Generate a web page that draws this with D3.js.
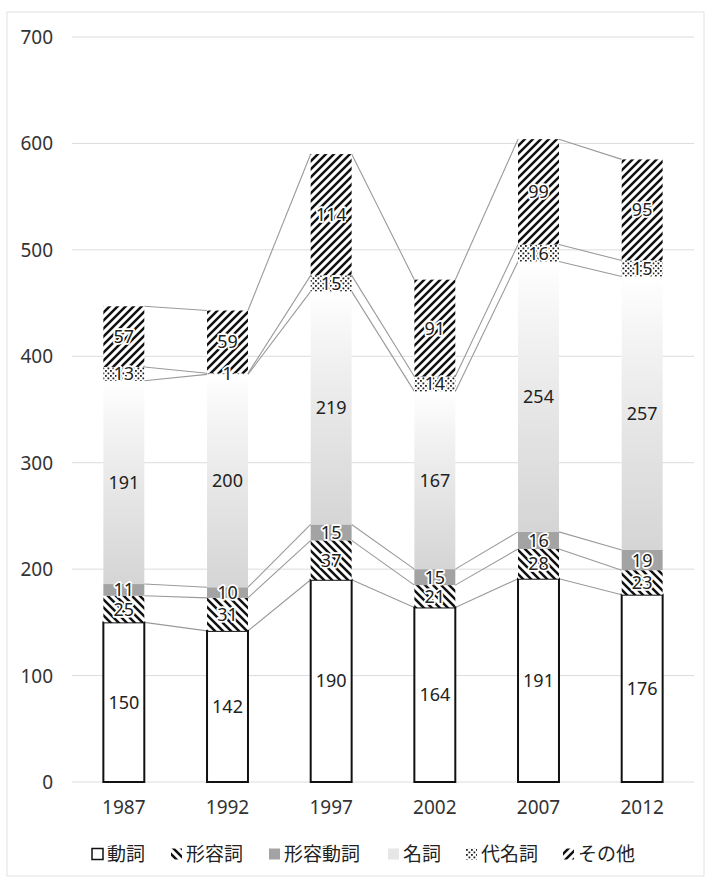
<!DOCTYPE html>
<html><head><meta charset="utf-8">
<script src="https://cdn.jsdelivr.net/npm/d3@7"></script>
<style>
html,body{margin:0;padding:0;background:#fff;}
svg{display:block;}
</style></head>
<body>
<svg id="chart" width="714" height="882"></svg>
<script>
const years = ["1987","1992","1997","2002","2007","2012"];
const seriesNames = ["動詞","形容詞","形容動詞","名詞","代名詞","その他"];
const verbs      = [150,142,190,164,191,176];
const adjectives = [25,31,37,21,28,23];
const adjVerbs   = [11,10,15,15,16,19];
const nouns      = [191,200,219,167,254,257];
const pronouns   = [13,1,15,14,16,15];
const others     = [57,59,114,91,99,95];
const yTicks = [0,100,200,300,400,500,600,700];

const seriesValues = [verbs, adjectives, adjVerbs, nouns, pronouns, others];
const table = years.map((y,i)=>{
  const o = {year:y};
  seriesNames.forEach((s,k)=>o[s]=seriesValues[k][i]);
  return o;
});

const svg = d3.select("#chart");
const defs = svg.append("defs");

// patterns
const pBack = defs.append("pattern").attr("id","hatchBack").attr("patternUnits","userSpaceOnUse")
  .attr("width",8).attr("height",8);
pBack.append("rect").attr("width",8).attr("height",8).attr("fill","#fff");
pBack.append("path").attr("d","M-2,-2 L10,10 M-2,6 L2,10 M6,-2 L10,2").attr("stroke","#111").attr("stroke-width",2.5);

const pFwd = defs.append("pattern").attr("id","hatchFwd").attr("patternUnits","userSpaceOnUse")
  .attr("width",8).attr("height",8);
pFwd.append("rect").attr("width",8).attr("height",8).attr("fill","#fff");
pFwd.append("path").attr("d","M-2,10 L10,-2 M-2,2 L2,-2 M6,10 L10,6").attr("stroke","#111").attr("stroke-width",2.5);

const pDots = defs.append("pattern").attr("id","dots").attr("patternUnits","userSpaceOnUse")
  .attr("width",5).attr("height",5);
pDots.append("rect").attr("width",5).attr("height",5).attr("fill","#fff");
pDots.append("rect").attr("x",0).attr("y",0).attr("width",1.8).attr("height",1.8).attr("fill","#222");
pDots.append("rect").attr("x",2.5).attr("y",2.5).attr("width",1.8).attr("height",1.8).attr("fill","#222");

const grad = defs.append("linearGradient").attr("id","nounGrad")
  .attr("x1",0).attr("y1",0).attr("x2",0).attr("y2",1);
grad.append("stop").attr("offset","0%").attr("stop-color","#ffffff");
grad.append("stop").attr("offset","20%").attr("stop-color","#f5f5f5");
grad.append("stop").attr("offset","55%").attr("stop-color","#e6e6e6");
grad.append("stop").attr("offset","100%").attr("stop-color","#d5d5d5");

const fills = {
  "動詞":"#ffffff",
  "形容詞":"url(#hatchBack)",
  "形容動詞":"#a3a3a3",
  "名詞":"url(#nounGrad)",
  "代名詞":"url(#dots)",
  "その他":"url(#hatchFwd)"
};

// border
svg.append("rect").attr("x",7).attr("y",12).attr("width",697).attr("height",864)
  .attr("fill","none").attr("stroke","#e2e2e2").attr("stroke-width",1);

const x = d3.scaleBand().domain(years).range([72,694]).paddingInner(0.605).paddingOuter(0.3025);
const y = d3.scaleLinear().domain([0,700]).range([782,37]);

// gridlines
svg.append("g").selectAll("line").data(yTicks).join("line")
  .attr("x1",72).attr("x2",694)
  .attr("y1",d=>y(d)).attr("y2",d=>y(d))
  .attr("stroke","#dcdcdc").attr("stroke-width",1);

const numFont = "'Noto Sans', 'Open Sans', sans-serif";

// y axis labels
const yAxis = d3.axisLeft(y).tickValues(yTicks).tickSize(0).tickPadding(0);
const yg = svg.append("g").attr("transform","translate(53,0)").call(yAxis);
yg.select(".domain").remove();
yg.selectAll("text").attr("font-family",numFont)
  .attr("font-size",19).attr("fill","#333").attr("dy","0.34em");

// x axis labels
const xAxis = d3.axisBottom(x).tickSize(0).tickPadding(0);
const xg = svg.append("g").attr("transform","translate(0,808)").call(xAxis);
xg.select(".domain").remove();
xg.selectAll("text").attr("font-family",numFont)
  .attr("font-size",19).attr("fill","#333").attr("dy","0.34em");

const stack = d3.stack().keys(seriesNames);
const series = stack(table);

// series lines
const sl = svg.append("g").attr("fill","none").attr("stroke","#9a9a9a").attr("stroke-width",1.1);
series.forEach(s=>{
  for(let i=0;i<years.length-1;i++){
    const a = s[i], b = s[i+1];
    sl.append("line")
      .attr("x1",x(years[i])+x.bandwidth()).attr("y1",y(a[1]))
      .attr("x2",x(years[i+1])).attr("y2",y(b[1]));
  }
});

// bars
const bars = svg.append("g");
series.forEach(s=>{
  const key = s.key;
  bars.append("g").selectAll("rect").data(s).join("rect")
    .attr("x",d=>x(d.data.year))
    .attr("width",x.bandwidth())
    .attr("y",d=>y(d[1]))
    .attr("height",d=>y(d[0])-y(d[1]))
    .attr("fill",fills[key])
    .attr("stroke",key==="動詞"?"#111":"none")
    .attr("stroke-width",key==="動詞"?2:0);
});

// labels
const lab = svg.append("g").attr("font-family",numFont)
  .attr("font-size",18).attr("text-anchor","middle");
series.forEach(s=>{
  const key = s.key;
  const patterned = (key==="形容詞"||key==="代名詞"||key==="その他"||key==="形容動詞");
  lab.append("g").selectAll("text").data(s).join("text")
    .attr("x",d=>x(d.data.year)+x.bandwidth()/2)
    .attr("y",d=>y((d[0]+d[1])/2))
    .attr("dy","0.36em")
    .attr("fill","#222")
    .attr("stroke",patterned?"#fff":"none")
    .attr("stroke-width",patterned?3.5:0)
    .attr("paint-order","stroke")
    .attr("stroke-linejoin","round")
    .text(d=>d.data[key]);
});

// legend
const legendX = [92,171,269,388,466,563];
const lg = svg.append("g").attr("transform","translate(0,854)");
seriesNames.forEach((name,k)=>{
  const g = lg.append("g").attr("transform",`translate(${legendX[k]},0)`);
  g.append("rect").attr("x",0).attr("y",-5.5).attr("width",11).attr("height",11)
    .attr("fill", name==="名詞" ? "#e6e6e6" : fills[name])
    .attr("stroke", name==="動詞" ? "#111" : "none")
    .attr("stroke-width", name==="動詞" ? 1.5 : 0);
  g.append("text").attr("x",15).attr("y",0).attr("dy","0.36em")
    .attr("font-family","'Noto Sans CJK JP', sans-serif").attr("font-size",19)
    .attr("fill","#222").text(name);
});
</script>
</body></html>
